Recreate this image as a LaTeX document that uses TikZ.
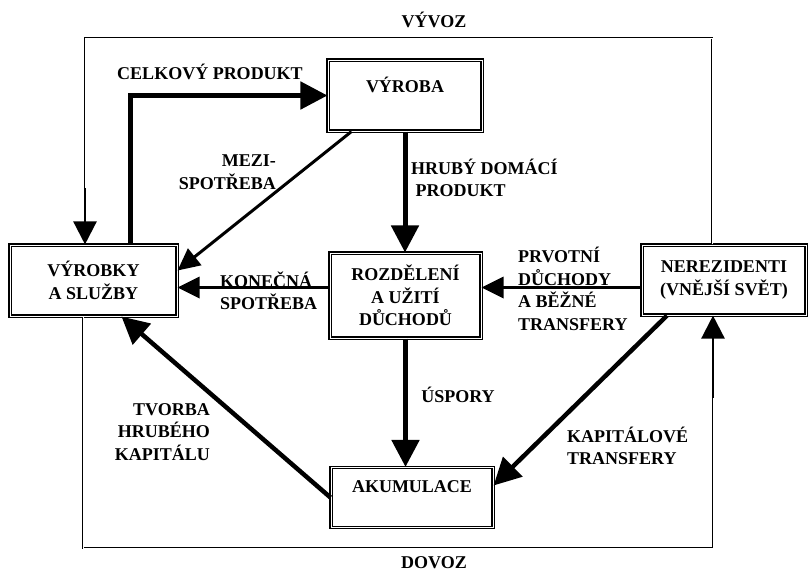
\documentclass[tikz,border=0pt]{standalone}
\usepackage{fontspec}
\setmainfont{Liberation Serif}
\usetikzlibrary{arrows.meta,positioning}

\begin{document}
\begin{tikzpicture}[x=1pt, y=-1pt,
  every node/.style = {align=center, inner sep=0pt,
    font=\fontsize{18}{22.5}\selectfont\bfseries}]
    \tikzstyle{box}=[draw, double, line width=1.1pt, double distance=1pt]
    \tikzstyle{bigflow}=[line width=5pt, -{Triangle[length=27pt,width=27pt]}]
    \tikzstyle{flow}=[line width=3.5pt, -{Triangle[length=22pt,width=21pt]}]
    \tikzstyle{trade}=[double, line width=0.9pt, double distance=0.9pt]
    \tikzstyle{tradetip}=[line width=2.4pt, -{Triangle[length=23pt,width=23pt]}]
  \useasboundingbox (0,0) rectangle (811,574);
  \node[box, minimum width=167pt, minimum height=71pt] (vyrobky) at (93.5,280.5) {VÝROBKY\\A SLUŽBY};
  \node[box, minimum width=154pt, inner ysep=19pt, text height=13pt, text depth=20pt] (vyroba) at (405,95.5) {VÝROBA};
  \node[box, minimum width=151pt, minimum height=85pt] (rozdeleni) at (405.5,295.5) {ROZDĚLENÍ\\A UŽITÍ\\DŮCHODŮ};
  \node[box, minimum width=164pt, minimum height=70pt] (nerez) at (724,280) {NEREZIDENTI\\(VNĚJŠÍ SVĚT)};
  \node[box, minimum width=162pt, inner ysep=12pt, text height=13pt, text depth=23pt] (akum) at (412,497.5) {AKUMULACE};
  \coordinate (vyvozR) at (712,38);
  \coordinate (vyvozL) at (85,38);
  \coordinate (dovozL) at (83,548);
  \coordinate (dovozR) at (713,548);
  \draw[trade] ([xshift=-12pt]nerez.north) -- (vyvozR) -- (vyvozL) -- ++(0,150);
  \draw[tradetip] ([yshift=-150pt]vyvozL) -- (vyvozL |- vyrobky.north);
  \draw[trade] (dovozL |- vyrobky.south) -- (dovozL) -- (dovozR) -- ++(0,-150);
  \draw[tradetip] ([yshift=150pt]dovozR) -- (dovozR |- nerez.south);
  \draw[bigflow] ([xshift=36.5pt]vyrobky.north) |- (vyroba.west);
  \draw[flow, line width=3pt] ([xshift=24pt]vyroba.south west) -- ([yshift=10pt]vyrobky.east);
  \draw[bigflow] (vyroba.south) -- (vyroba.south |- rozdeleni.north);
  \draw[flow] ([yshift=8pt]rozdeleni.west) -- ([yshift=8pt]rozdeleni.west -| vyrobky.east);
  \draw[flow] ([yshift=8pt]rozdeleni.east -| nerez.west) -- ([yshift=8pt]rozdeleni.east);
  \draw[bigflow] (rozdeleni.south) -- (rozdeleni.south |- akum.north);
  \draw[bigflow, line width=4.5pt] (akum.west) -- ([xshift=28pt]vyrobky.south);
  \draw[bigflow, line width=4.5pt] ([xshift=-57pt]nerez.south) -- ([yshift=12pt]akum.east);
  \node (vyvoz) at (434,20) {VÝVOZ};
  \node (dovoz) at (434,563) {DOVOZ};
  \node (celkovy) at (210,72) {CELKOVÝ PRODUKT};
  \node[anchor=east, align=right] (mezi) at (276,172) {MEZI-\\SPOTŘEBA};
  \node[anchor=west, align=left] (hdp) at (411,178) {HRUBÝ DOMÁCÍ\\\ PRODUKT};
  \node[anchor=west, align=left] (konecna) at (220,291) {KONEČNÁ\\SPOTŘEBA};
  \node[anchor=west, align=left] (prvotni) at (518,289) {PRVOTNÍ\\DŮCHODY\\A BĚŽNÉ\\TRANSFERY};
  \node (uspory) at (458,395) {ÚSPORY};
  \node[anchor=east, align=right] (tvorba) at (210,432) {TVORBA\\HRUBÉHO\\KAPITÁLU};
  \node[anchor=west, align=left] (kapital) at (567,446) {KAPITÁLOVÉ\\TRANSFERY};
\end{tikzpicture}
\end{document}
